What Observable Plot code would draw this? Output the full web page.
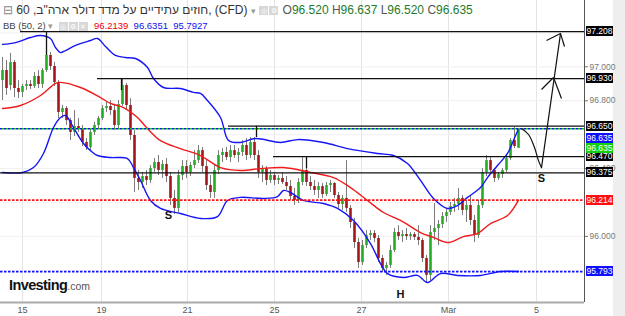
<!DOCTYPE html>
<html><head><meta charset="utf-8">
<script src="https://cdn.jsdelivr.net/npm/d3@7"></script>
<script src="https://cdn.jsdelivr.net/npm/@observablehq/plot@0.6"></script>
<style>
body{margin:0;background:#fff;}
#wrap{position:relative;width:625px;height:316px;overflow:hidden;font-family:"Liberation Sans",Arial,sans-serif;background:#fff;}
#strip{position:absolute;left:613px;top:0;width:12px;height:316px;background:#eeeeee;}
#chart{position:absolute;left:0;top:0;}
.hdr{position:absolute;left:3px;white-space:nowrap;color:#333;}
#h1{top:3px;font-size:12px;}
#h2{top:20px;font-size:9.5px;color:#444;}
.btn{display:inline-block;width:9px;height:9px;background:#d8d8d8;color:#fff;font-size:7px;line-height:9px;text-align:center;margin-right:1px;vertical-align:middle;}
.dd{color:#999;font-size:9px;}
.g{color:#1e7b2c;}
.lab{position:absolute;left:586px;width:27px;height:10px;font-size:8.5px;line-height:10px;color:#fff;text-align:center;}
#logo{position:absolute;left:9px;top:277px;font-weight:bold;font-size:14.5px;color:#111;letter-spacing:-0.6px;}
#logo span{font-weight:normal;font-size:10.5px;color:#555;letter-spacing:0;}
</style></head>
<body>
<div id="wrap">
<div id="strip"></div>
<div id="chart"></div>
<div class="hdr" id="h1"><span style="color:#888">⊟</span> <span>חוזים עתידיים על מדד דולר ארה&quot;ב, 60, (CFD)</span> <span class="dd">▾</span> <span class="btn">◎</span><span class="btn">⚙</span> <span style="color:#555">O</span><span class="g">96.520</span> <span style="color:#555">H</span><span class="g">96.637</span> <span style="color:#555">L</span><span class="g">96.520</span> <span style="color:#555">C</span><span class="g">96.635</span></div>
<div class="hdr" id="h2">BB (50, 2) <span class="dd">▾</span> &nbsp;<span class="btn">◎</span><span class="btn">⚙</span><span class="btn">✕</span> &nbsp;<span style="color:#e00">96.2139</span> &nbsp;<span style="color:#1010ee">96.6351</span> &nbsp;<span style="color:#1010ee">95.7927</span></div>
<div id="logo">Investing<span>.com</span></div>
</div>
<script>
// hourly candles (bar index 0..129)
const O = [96.919,96.978,96.890,97.025,96.872,96.849,96.884,96.896,96.884,96.943,96.896,96.978,97.067,97.002,96.908,96.731,96.754,96.683,96.613,96.648,96.636,96.554,96.524,96.613,96.654,96.695,96.754,96.766,96.742,96.654,96.778,96.890,96.772,96.595,96.342,96.318,96.353,96.330,96.400,96.436,96.389,96.424,96.353,96.224,96.165,96.359,96.412,96.377,96.418,96.447,96.506,96.412,96.300,96.259,96.389,96.477,96.495,96.465,96.506,96.477,96.495,96.536,96.477,96.554,96.477,96.377,96.400,96.330,96.359,96.330,96.342,96.318,96.294,96.235,96.212,96.318,96.389,96.318,96.294,96.271,96.294,96.247,96.300,96.312,96.241,96.188,96.224,96.165,96.082,95.964,95.846,95.946,96.005,96.017,95.988,95.870,95.811,95.829,95.917,96.023,95.999,96.011,95.999,96.011,95.994,95.976,95.870,95.770,96.023,96.047,96.070,96.117,96.141,96.176,96.188,96.224,96.153,96.182,96.094,96.005,96.182,96.377,96.447,96.389,96.342,96.365,96.389,96.459,96.565,96.520];
const H = [97.055,97.037,97.079,97.037,96.919,96.896,96.919,96.919,96.966,96.978,96.990,97.084,97.084,97.025,96.919,96.772,96.766,96.695,96.742,96.695,96.654,96.577,96.636,96.672,96.707,96.772,96.790,96.801,96.778,96.801,96.931,96.902,96.813,96.624,96.389,96.377,96.389,96.418,96.459,96.477,96.447,96.459,96.377,96.271,96.389,96.447,96.447,96.436,96.506,96.536,96.524,96.447,96.359,96.418,96.506,96.518,96.524,96.536,96.536,96.518,96.565,96.577,96.583,96.583,96.506,96.418,96.412,96.389,96.377,96.359,96.377,96.353,96.330,96.283,96.342,96.465,96.406,96.353,96.330,96.318,96.312,96.318,96.330,96.318,96.259,96.241,96.447,96.182,96.106,95.988,95.976,96.035,96.035,96.035,96.005,95.888,95.846,95.946,96.047,96.064,96.035,96.047,96.023,96.023,96.064,95.988,95.888,96.064,96.194,96.094,96.141,96.165,96.200,96.224,96.283,96.241,96.212,96.241,96.123,96.212,96.400,96.477,96.471,96.400,96.377,96.400,96.477,96.577,96.642,96.637];
const L = [96.801,96.831,96.860,96.819,96.813,96.819,96.860,96.866,96.872,96.872,96.872,96.966,96.978,96.884,96.695,96.695,96.654,96.565,96.589,96.613,96.530,96.506,96.506,96.595,96.636,96.683,96.731,96.713,96.624,96.636,96.766,96.742,96.565,96.259,96.271,96.283,96.300,96.312,96.377,96.359,96.342,96.318,96.182,96.129,96.141,96.330,96.342,96.353,96.400,96.430,96.377,96.271,96.224,96.224,96.365,96.436,96.447,96.436,96.459,96.436,96.471,96.447,96.459,96.447,96.342,96.318,96.300,96.312,96.300,96.306,96.306,96.271,96.212,96.182,96.194,96.300,96.294,96.271,96.241,96.224,96.224,96.235,96.259,96.224,96.165,96.153,96.141,96.047,95.929,95.811,95.829,95.929,95.976,95.964,95.846,95.787,95.770,95.811,95.905,95.976,95.964,95.976,95.976,95.976,95.946,95.846,95.723,95.740,95.976,95.946,96.047,96.082,96.123,96.141,96.153,96.123,96.082,96.064,95.964,95.988,96.165,96.353,96.377,96.318,96.330,96.342,96.377,96.447,96.518,96.520];
const C = [96.978,96.872,97.025,96.872,96.849,96.884,96.896,96.884,96.943,96.896,96.978,97.067,97.002,96.908,96.731,96.754,96.683,96.613,96.648,96.636,96.554,96.524,96.613,96.654,96.695,96.754,96.766,96.742,96.654,96.778,96.890,96.772,96.595,96.342,96.318,96.353,96.330,96.400,96.436,96.389,96.424,96.353,96.224,96.165,96.359,96.412,96.377,96.418,96.447,96.506,96.412,96.300,96.259,96.389,96.477,96.495,96.465,96.506,96.477,96.495,96.536,96.477,96.554,96.477,96.377,96.400,96.330,96.359,96.330,96.342,96.318,96.294,96.235,96.212,96.318,96.389,96.318,96.294,96.271,96.294,96.247,96.300,96.312,96.241,96.188,96.224,96.165,96.082,95.964,95.846,95.946,96.005,96.017,95.988,95.870,95.811,95.829,95.917,96.023,95.999,96.011,95.999,96.011,95.994,95.976,95.870,95.770,96.023,96.047,96.070,96.117,96.141,96.176,96.188,96.224,96.153,96.182,96.094,96.005,96.182,96.377,96.447,96.389,96.342,96.365,96.389,96.459,96.565,96.530,96.635];

// Bollinger Bands (50, 2), sampled along the bar index
const bbUpperX = [0,3.25,7,9.5,12,13.25,14.5,15.75,18.25,22,23.75,25.75,28.25,30.75,33.25,36.25,37.75,40.25,44.5,47.75,49.5,51.25,54.5,56.5,59.5,63.25,69.5,73.75,80.25,86.25,93.75,97.75,101.25,104.5,107.75,111.25,113.75,116.25,119.5,121.25,123.75,126.25,128,129];
const bbUpperY = [97.132,97.143,97.173,97.185,97.167,97.114,97.084,97.096,97.126,97.155,97.167,97.120,97.067,97.055,97.049,96.996,96.931,96.878,96.872,96.849,96.843,96.801,96.701,96.566,96.554,96.577,96.554,96.571,96.554,96.518,96.489,96.477,96.430,96.330,96.224,96.165,96.182,96.230,96.288,96.347,96.418,96.489,96.580,96.635];
const bbMidX = [0,4.5,9.5,13.25,14.5,19.5,24.5,27,30.25,33.75,36.25,39.5,44.5,49.5,54.5,59.5,64.5,70.25,77,82.75,87,91.25,95.25,99.5,104.5,107.75,111.25,115.25,118.75,122,126.25,129];
const bbMidY = [96.754,96.772,96.831,96.902,96.908,96.878,96.819,96.784,96.760,96.701,96.636,96.565,96.518,96.477,96.406,96.389,96.400,96.406,96.377,96.347,96.288,96.212,96.141,96.094,96.023,95.994,95.964,95.999,96.017,96.076,96.123,96.214];
const bbLowerX = [0,5,7.75,10.25,12.75,14.5,15.75,17.75,20.25,22,23.75,27,31.25,32.75,34.5,37,39.5,44.5,49.5,53.75,56.25,59.5,65.25,68.75,70.25,72,75.25,80.25,83.75,87.75,92,94.5,96.25,100.25,103.75,106.25,109.5,113.75,119.5,124.5,129];
const bbLowerY = [96.377,96.377,96.406,96.489,96.642,96.701,96.713,96.642,96.548,96.506,96.477,96.465,96.459,96.406,96.330,96.212,96.165,96.135,96.106,96.117,96.212,96.230,96.224,96.235,96.271,96.259,96.212,96.194,96.165,96.094,95.958,95.840,95.781,95.758,95.770,95.728,95.781,95.770,95.770,95.793,95.793];

const lastClose = 96.635, bbUpperLast = 96.6351, bbMidLast = 96.2139, bbLowerLast = 95.7927;

// hand-drawn support / resistance levels
const levelPrices = [97.208, 96.930, 96.650, 96.470, 96.375];
const levelStart = [4.5, 23.75, 56.5, 67.75, -0.5];
const peakX = [11, 29.75, 63.5, 76];
const peakTop = [97.208, 96.930, 96.650, 96.470];
const peakBottom = [97.067, 96.860, 96.583, 96.400];

// projected path (arrow)
const pathCurveX = [129.75, 131.5, 133, 134, 134.75];
const pathCurveY = [96.636, 96.601, 96.524, 96.447, 96.406];
const pathUpX = [134.75, 139.5];
const pathUpY = [96.406, 97.196];
const barbX1 = [137.75, 137.75, 139.5, 139.5];
const barbY1 = [96.937, 96.937, 97.196, 97.196];
const barbX2 = [134.75, 139.75, 136, 140.5];
const barbY2 = [96.866, 96.813, 97.155, 97.120];

const noteText = ["S", "S", "H"];
const noteX = [41.5, 134.75, 99.5];
const noteY = [96.123, 96.342, 95.660];

// axes
const xTickPos = [5, 24.75, 46.25, 68, 89.75, 111.5, 133.5];
const xTickLabels = ["15", "19", "21", "25", "27", "Mar", "5"];
const yTicks = [95.8, 96.0, 96.2, 96.4, 96.6, 96.8, 97.0, 97.2];
const yTickShown = [96.0, 96.4, 96.8, 97.0];

const xDomain = [-0.5, 145.5];
const yDomain = [95.6104, 97.391];

const candles = O.map((o, i) => ({i, o, h: H[i], l: L[i], c: C[i]}));
const up = candles.filter(d => d.c >= d.o);
const dn = candles.filter(d => d.c < d.o);
const pts = (xs, ys) => xs.map((x, k) => ({x, y: ys[k]}));
const levels = levelPrices.map((p, k) => ({p, s: levelStart[k]}));
const peaks = peakX.map((x, k) => ({x, a: peakTop[k], b: peakBottom[k]}));
const barbs = barbX1.map((x1, k) => ({x1, y1: barbY1[k], x2: barbX2[k], y2: barbY2[k]}));
const notes = noteText.map((t, k) => ({t, x: noteX[k], y: noteY[k]}));
const xLab = new Map(xTickPos.map((p, k) => [p, xTickLabels[k]]));

const chart = Plot.plot({
  width: 625, height: 316,
  marginLeft: 0, marginRight: 41, marginTop: 0, marginBottom: 14,
  x: {domain: xDomain},
  y: {domain: yDomain},
  style: {background: "transparent", fontFamily: "Liberation Sans, Arial, sans-serif"},
  marks: [
    Plot.gridX(xTickPos, {stroke: "#e4e4e4", strokeOpacity: 1}),
    Plot.gridY(yTicks, {stroke: "#f0f0f0", strokeOpacity: 1}),
    Plot.ruleX(candles, {x: "i", y1: "l", y2: "h", stroke: "#7c7c7c", strokeWidth: 1}),
    Plot.ruleX(up, {x: "i", y1: "o", y2: "c", stroke: "#22ad22", strokeWidth: 2.6}),
    Plot.ruleX(dn, {x: "i", y1: "o", y2: "c", stroke: "#a3161a", strokeWidth: 2.6}),
    Plot.line(pts(bbUpperX, bbUpperY), {x: "x", y: "y", stroke: "#1616f5", strokeWidth: 1.4, curve: "catmull-rom"}),
    Plot.line(pts(bbMidX, bbMidY), {x: "x", y: "y", stroke: "#f01c1c", strokeWidth: 1.4, curve: "catmull-rom"}),
    Plot.line(pts(bbLowerX, bbLowerY), {x: "x", y: "y", stroke: "#1616f5", strokeWidth: 1.4, curve: "catmull-rom"}),
    Plot.ruleY([bbMidLast], {stroke: "#ff1010", strokeWidth: 1.6, strokeDasharray: "2.5,1.5"}),
    Plot.ruleY([bbLowerLast], {stroke: "#1010ff", strokeWidth: 1.6, strokeDasharray: "2.5,1.5"}),
    Plot.ruleY([bbUpperLast], {stroke: "#1010ff", strokeWidth: 1.4, strokeDasharray: "2,2"}),
    Plot.ruleY([lastClose], {stroke: "#10d010", strokeWidth: 1.4, strokeDasharray: "2,2", strokeDashoffset: 2}),
    Plot.ruleY(levels, {y: "p", x1: "s", x2: xDomain[1], stroke: "#111", strokeWidth: 1.3}),
    Plot.ruleX(peaks, {x: "x", y1: "a", y2: "b", stroke: "#111", strokeWidth: 1.3}),
    Plot.line(pts(pathCurveX, pathCurveY), {x: "x", y: "y", stroke: "#111", strokeWidth: 1.2, curve: "catmull-rom"}),
    Plot.line(pts(pathUpX, pathUpY), {x: "x", y: "y", stroke: "#111", strokeWidth: 1.2}),
    Plot.link(barbs, {x1: "x1", y1: "y1", x2: "x2", y2: "y2", stroke: "#111", strokeWidth: 1.2}),
    Plot.text(notes, {x: "x", y: "y", text: "t", fontWeight: "bold", fontSize: 11, fill: "#111"}),
    Plot.ruleX([xDomain[1]], {stroke: "#555", strokeWidth: 1}),
    Plot.ruleY([yDomain[0]], {stroke: "#aaa", strokeWidth: 2}),
    Plot.axisY(yTickShown, {anchor: "right", tickSize: 3, tickPadding: 2, tickFormat: d => d.toFixed(3), fontSize: 8.5, color: "#777"}),
    Plot.axisX(xTickPos, {tickSize: 0, tickPadding: 4, tickFormat: d => xLab.get(d), fontSize: 9, color: "#555"})
  ]
});
document.getElementById("chart").appendChild(chart);

// price tags on the right axis, placed with the plot's y scale
const tagText = ["97.208", "96.930", "96.650", "96.470", "96.375", "96.635", "96.635", "96.214", "95.793"];
const tagValue = [97.208, 96.930, 96.650, 96.470, 96.375, bbUpperLast, lastClose, bbMidLast, bbLowerLast];
const tagColor = ["#000", "#000", "#000", "#000", "#000", "#1010ff", "#10d010", "#ff1010", "#1010ff"];
const tagShift = [0, 0, 0, 0, 0, 10, 19.5, 0, 0];
const ys = chart.scale("y");
const wrap = document.getElementById("wrap");
tagText.forEach((t, k) => {
  const d = document.createElement("div");
  d.className = "lab";
  d.textContent = t;
  d.style.background = tagColor[k];
  d.style.top = (ys.apply(tagValue[k]) + tagShift[k] - 5) + "px";
  wrap.appendChild(d);
});
</script>
</body></html>
